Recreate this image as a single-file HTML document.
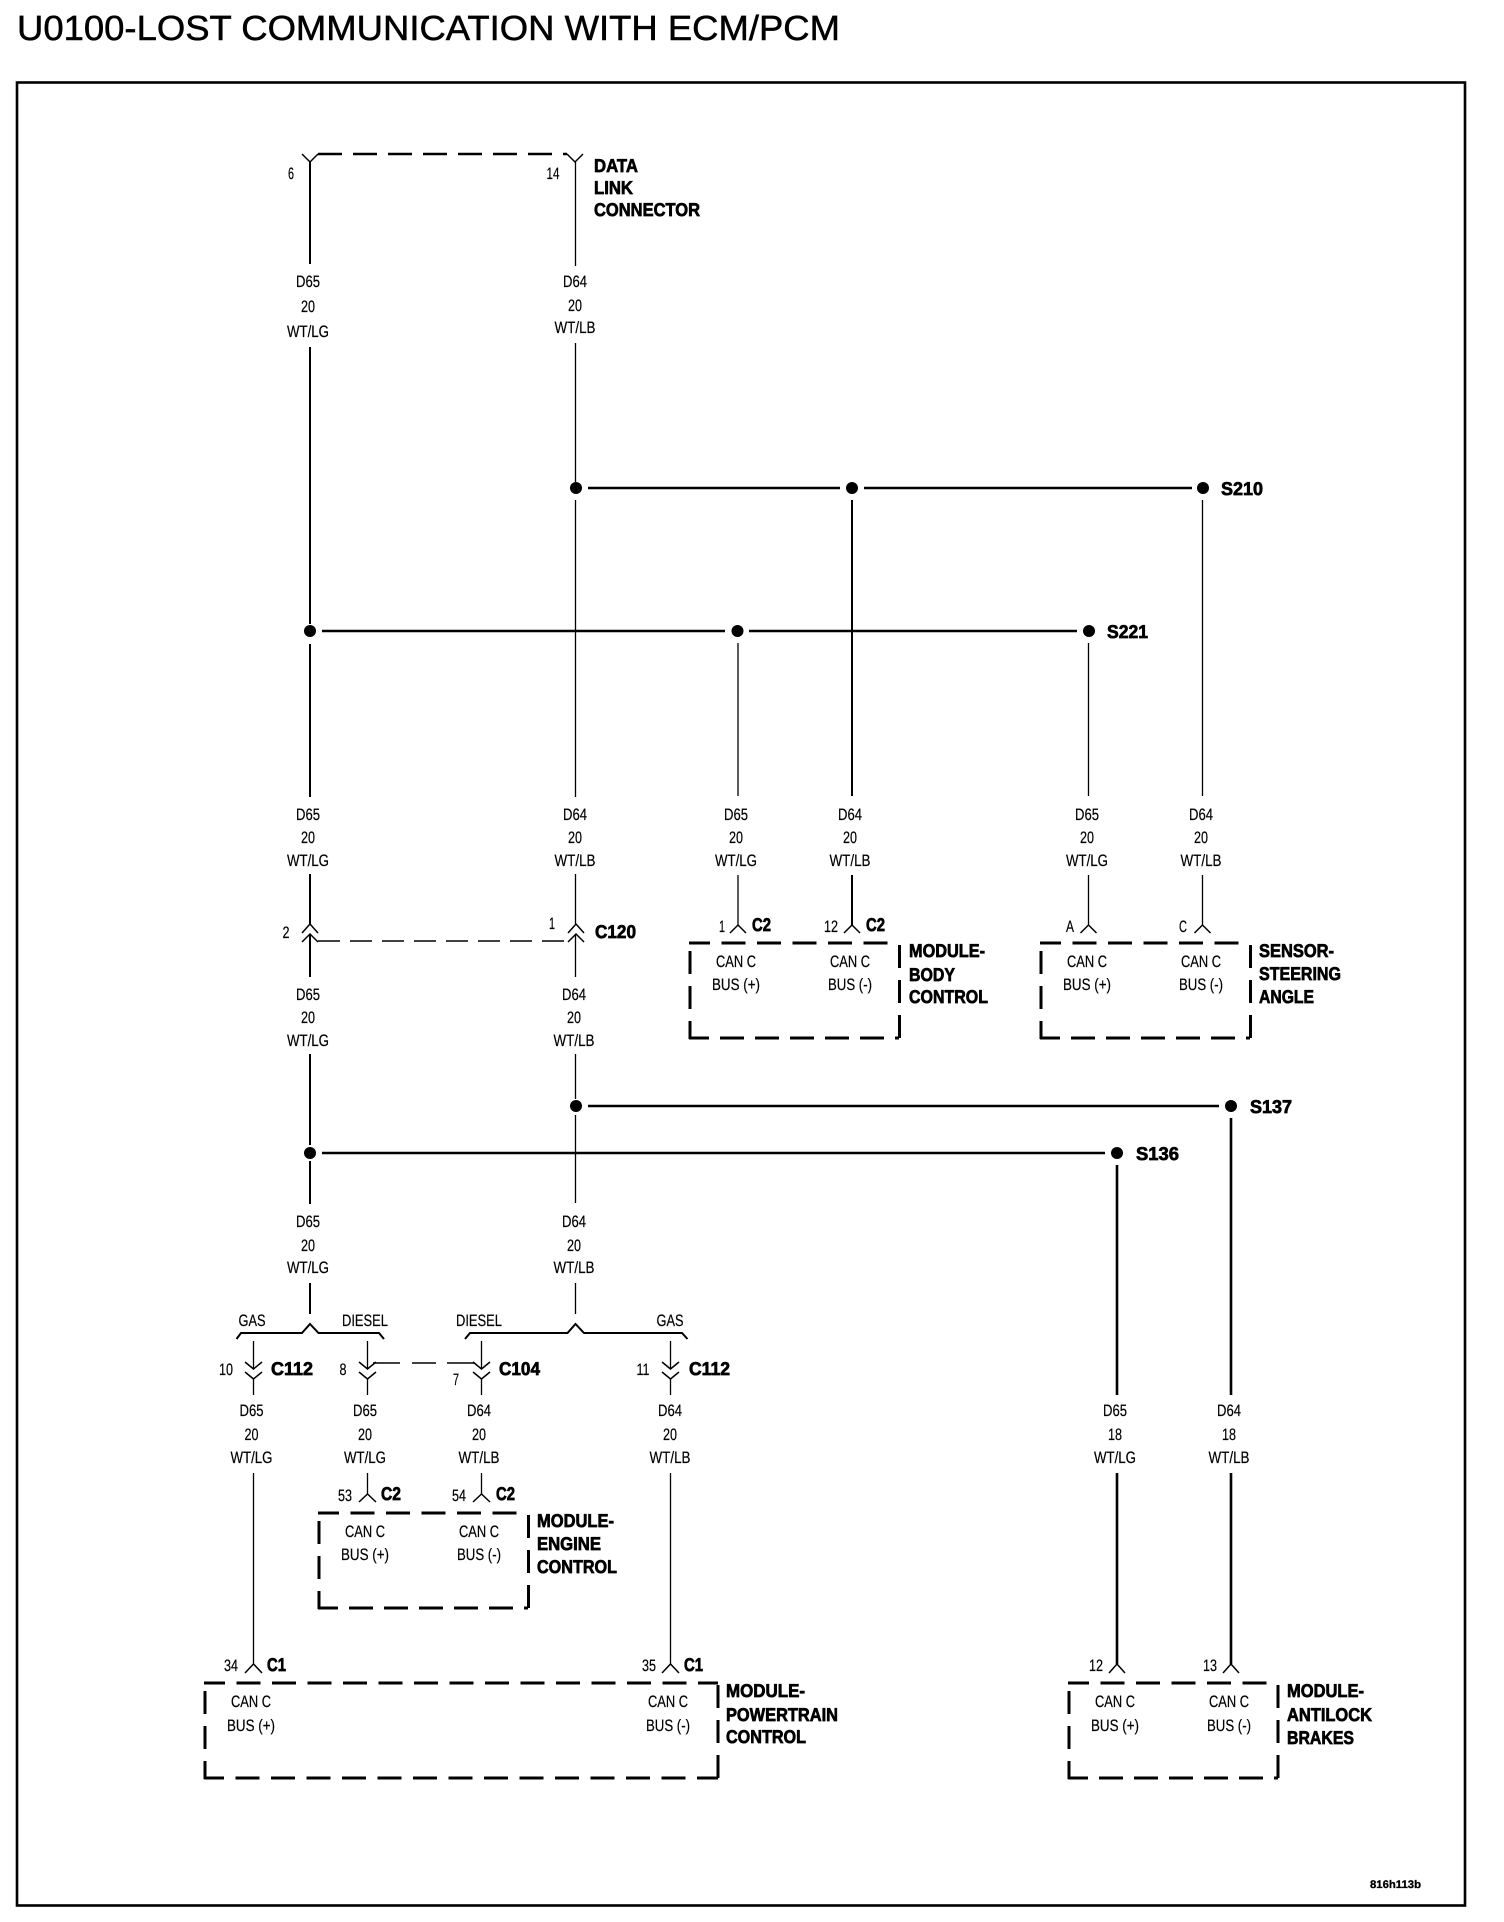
<!DOCTYPE html>
<html><head><meta charset="utf-8"><title>U0100-LOST COMMUNICATION WITH ECM/PCM</title>
<style>
html,body{margin:0;padding:0;background:#fff;width:1504px;height:1922px;overflow:hidden}
svg{display:block}
text{font-family:"Liberation Sans",sans-serif;fill:#000;text-rendering:geometricPrecision}
.s{font-size:16.5px;text-anchor:middle;stroke:#000;stroke-width:.2px}
.b{font-size:18.500px;font-weight:bold;stroke:#000;stroke-width:.7px}
.w{fill:none;stroke:#000}
.t1{stroke-width:1.3}.t2{stroke-width:2}.t3{stroke-width:2.6}
.h{stroke-width:2.6}
.c{fill:none;stroke:#000;stroke-width:1.5}
.m{fill:none;stroke:#000;stroke-width:3}
</style></head><body>
<svg width="1504" height="1922" viewBox="0 0 1504 1922" xmlns="http://www.w3.org/2000/svg">
<rect width="1504" height="1922" fill="#fff"/>
<text x="17" y="40" font-size="35" stroke="#000" stroke-width=".5" textLength="823" lengthAdjust="spacingAndGlyphs">U0100-LOST COMMUNICATION WITH ECM/PCM</text>
<rect x="17" y="82.500" width="1448" height="1823" fill="none" stroke="#000" stroke-width="2.6"/>
<g transform="translate(-1,-1)">

<!-- Data link connector -->
<path class="m" style="stroke-width:2.6" stroke-dasharray="24 11" d="M319 155H568"/>
<path class="c" d="M303 155L311 163L319 155M568 155L576 163L584 155"/>
<path class="w t2" d="M311 163V265M311 348V625M311 645V798M311 875V925M311 935V978M311 1055V1146M311 1162V1205M311 1284V1315"/>
<path class="w t1" d="M576.500 163V267M576.500 344V483M576.500 501V798M576.500 875V925M576.500 935V978M576.500 1055V1100M576.500 1116V1204M576.500 1284V1315"/>
<text class="s" x="292" y="180" textLength="6" lengthAdjust="spacingAndGlyphs">6</text>
<text class="s" x="554" y="180" textLength="13" lengthAdjust="spacingAndGlyphs">14</text>
<text class="b" x="595" y="173" textLength="44" lengthAdjust="spacingAndGlyphs">DATA</text>
<text class="b" x="595" y="195" textLength="39" lengthAdjust="spacingAndGlyphs">LINK</text>
<text class="b" x="595" y="217" textLength="106" lengthAdjust="spacingAndGlyphs">CONNECTOR</text>

<text class="s" x="309" y="288" textLength="24" lengthAdjust="spacingAndGlyphs">D65</text>
<text class="s" x="309" y="313" textLength="14" lengthAdjust="spacingAndGlyphs">20</text>
<text class="s" x="309" y="338" textLength="42" lengthAdjust="spacingAndGlyphs">WT/LG</text>
<text class="s" x="576" y="288" textLength="24" lengthAdjust="spacingAndGlyphs">D64</text>
<text class="s" x="576" y="312" textLength="14" lengthAdjust="spacingAndGlyphs">20</text>
<text class="s" x="576" y="334" textLength="41" lengthAdjust="spacingAndGlyphs">WT/LB</text>

<!-- Splices -->
<path class="w h" d="M589 489H841M865 489H1193M323 632H726M750 632H1078M589 1107H1220M323 1154H1106"/>
<g fill="#000">
<circle cx="577" cy="489" r="6"/><circle cx="853" cy="489" r="6"/><circle cx="1204" cy="489" r="6"/>
<circle cx="311" cy="632" r="6"/><circle cx="738.500" cy="632" r="6"/><circle cx="1090" cy="632" r="6"/>
<circle cx="577" cy="1107" r="6"/><circle cx="1232" cy="1107" r="6"/>
<circle cx="311" cy="1154" r="6"/><circle cx="1118" cy="1154" r="6"/>
</g>
<text class="b" x="1222" y="496" textLength="42" lengthAdjust="spacingAndGlyphs">S210</text>
<text class="b" x="1108" y="639" textLength="41" lengthAdjust="spacingAndGlyphs">S221</text>
<text class="b" x="1251" y="1114" textLength="42" lengthAdjust="spacingAndGlyphs">S137</text>
<text class="b" x="1137" y="1161" textLength="43" lengthAdjust="spacingAndGlyphs">S136</text>

<!-- Branch wires -->
<path class="w t1" d="M739 644V797M739 876V926"/>
<path class="w t2" d="M853 501V797M853 876V926"/>
<path class="w t1" d="M1089.500 644V797M1089.500 876V926"/>
<path class="w t1" d="M1203.500 501V797M1203.500 876V926"/>
<path class="w t3" d="M1118 1166V1396M1118 1474V1665"/>
<path class="w t3" d="M1232 1119V1396M1232 1474V1665"/>

<!-- Row 2 labels -->
<g>
<text class="s" x="309" y="821" textLength="24" lengthAdjust="spacingAndGlyphs">D65</text><text class="s" x="309" y="844" textLength="14" lengthAdjust="spacingAndGlyphs">20</text><text class="s" x="309" y="867" textLength="42" lengthAdjust="spacingAndGlyphs">WT/LG</text>
<text class="s" x="576" y="821" textLength="24" lengthAdjust="spacingAndGlyphs">D64</text><text class="s" x="576" y="844" textLength="14" lengthAdjust="spacingAndGlyphs">20</text><text class="s" x="576" y="867" textLength="41" lengthAdjust="spacingAndGlyphs">WT/LB</text>
<text class="s" x="737" y="821" textLength="24" lengthAdjust="spacingAndGlyphs">D65</text><text class="s" x="737" y="844" textLength="14" lengthAdjust="spacingAndGlyphs">20</text><text class="s" x="737" y="867" textLength="42" lengthAdjust="spacingAndGlyphs">WT/LG</text>
<text class="s" x="851" y="821" textLength="24" lengthAdjust="spacingAndGlyphs">D64</text><text class="s" x="851" y="844" textLength="14" lengthAdjust="spacingAndGlyphs">20</text><text class="s" x="851" y="867" textLength="41" lengthAdjust="spacingAndGlyphs">WT/LB</text>
<text class="s" x="1088" y="821" textLength="24" lengthAdjust="spacingAndGlyphs">D65</text><text class="s" x="1088" y="844" textLength="14" lengthAdjust="spacingAndGlyphs">20</text><text class="s" x="1088" y="867" textLength="42" lengthAdjust="spacingAndGlyphs">WT/LG</text>
<text class="s" x="1202" y="821" textLength="24" lengthAdjust="spacingAndGlyphs">D64</text><text class="s" x="1202" y="844" textLength="14" lengthAdjust="spacingAndGlyphs">20</text><text class="s" x="1202" y="867" textLength="41" lengthAdjust="spacingAndGlyphs">WT/LB</text>
</g>

<!-- C120 -->
<path class="c" d="M303 934L311 925L319 934M303 943L311 935L319 943M569 934L577 925L585 934M569 943L577 935L585 943"/>
<path class="w" stroke-width="1.4" stroke-dasharray="22 10" d="M319 942H570"/>
<text class="s" x="287" y="939" textLength="7" lengthAdjust="spacingAndGlyphs">2</text>
<text class="s" x="553" y="930" textLength="6" lengthAdjust="spacingAndGlyphs">1</text>
<text class="b" x="596" y="939" textLength="41" lengthAdjust="spacingAndGlyphs">C120</text>
<text class="s" x="309" y="1001" textLength="24" lengthAdjust="spacingAndGlyphs">D65</text><text class="s" x="309" y="1024" textLength="14" lengthAdjust="spacingAndGlyphs">20</text><text class="s" x="309" y="1047" textLength="42" lengthAdjust="spacingAndGlyphs">WT/LG</text>
<text class="s" x="575" y="1001" textLength="24" lengthAdjust="spacingAndGlyphs">D64</text><text class="s" x="575" y="1024" textLength="14" lengthAdjust="spacingAndGlyphs">20</text><text class="s" x="575" y="1047" textLength="41" lengthAdjust="spacingAndGlyphs">WT/LB</text>

<!-- Body control -->
<path class="c" d="M731 934L739 926L747 934M845 934L853 926L861 934"/>
<text class="s" x="723" y="933" textLength="6" lengthAdjust="spacingAndGlyphs">1</text>
<text class="b" x="753" y="932" textLength="19" lengthAdjust="spacingAndGlyphs">C2</text>
<text class="s" x="832" y="933" textLength="14" lengthAdjust="spacingAndGlyphs">12</text>
<text class="b" x="867" y="932" textLength="19" lengthAdjust="spacingAndGlyphs">C2</text>
<path class="m" stroke-dasharray="24 11.500" stroke-dashoffset="3" d="M690 944H891"/>
<path class="m" stroke-dasharray="24 11" stroke-dashoffset="4" d="M690 1039H900"/>
<path class="m" stroke-dasharray="23 12" stroke-dashoffset="26" d="M691 943V1040"/>
<path class="m" stroke-dasharray="23 12" d="M900.500 946V1040"/>
<text class="s" x="737" y="968" textLength="40" lengthAdjust="spacingAndGlyphs">CAN C</text><text class="s" x="737" y="991" textLength="48" lengthAdjust="spacingAndGlyphs">BUS (+)</text>
<text class="s" x="851" y="968" textLength="40" lengthAdjust="spacingAndGlyphs">CAN C</text><text class="s" x="851" y="991" textLength="44" lengthAdjust="spacingAndGlyphs">BUS (-)</text>
<text class="b" x="910" y="958" textLength="76" lengthAdjust="spacingAndGlyphs">MODULE-</text>
<text class="b" x="910" y="982" textLength="46" lengthAdjust="spacingAndGlyphs">BODY</text>
<text class="b" x="910" y="1004" textLength="79" lengthAdjust="spacingAndGlyphs">CONTROL</text>

<!-- Sensor -->
<path class="c" d="M1081.500 934L1089.500 926L1097.500 934M1195.500 934L1203.500 926L1211.500 934"/>
<text class="s" x="1071" y="933" textLength="8" lengthAdjust="spacingAndGlyphs">A</text>
<text class="s" x="1184" y="933" textLength="8" lengthAdjust="spacingAndGlyphs">C</text>
<path class="m" stroke-dasharray="24 11.500" stroke-dashoffset="3" d="M1041 944H1242"/>
<path class="m" stroke-dasharray="24 11" stroke-dashoffset="4" d="M1041 1039H1251"/>
<path class="m" stroke-dasharray="23 12" stroke-dashoffset="26" d="M1042 943V1040"/>
<path class="m" stroke-dasharray="23 12" d="M1251.500 946V1040"/>
<text class="s" x="1088" y="968" textLength="40" lengthAdjust="spacingAndGlyphs">CAN C</text><text class="s" x="1088" y="991" textLength="48" lengthAdjust="spacingAndGlyphs">BUS (+)</text>
<text class="s" x="1202" y="968" textLength="40" lengthAdjust="spacingAndGlyphs">CAN C</text><text class="s" x="1202" y="991" textLength="44" lengthAdjust="spacingAndGlyphs">BUS (-)</text>
<text class="b" x="1260" y="958" textLength="75" lengthAdjust="spacingAndGlyphs">SENSOR-</text>
<text class="b" x="1260" y="981" textLength="82" lengthAdjust="spacingAndGlyphs">STEERING</text>
<text class="b" x="1260" y="1004" textLength="55" lengthAdjust="spacingAndGlyphs">ANGLE</text>

<!-- Row 3 labels -->
<text class="s" x="309" y="1228" textLength="24" lengthAdjust="spacingAndGlyphs">D65</text><text class="s" x="309" y="1252" textLength="14" lengthAdjust="spacingAndGlyphs">20</text><text class="s" x="309" y="1274" textLength="42" lengthAdjust="spacingAndGlyphs">WT/LG</text>
<text class="s" x="575" y="1228" textLength="24" lengthAdjust="spacingAndGlyphs">D64</text><text class="s" x="575" y="1252" textLength="14" lengthAdjust="spacingAndGlyphs">20</text><text class="s" x="575" y="1274" textLength="41" lengthAdjust="spacingAndGlyphs">WT/LB</text>

<!-- Braces -->
<path class="w" stroke-width="2" d="M237.500 1340L242 1334H303L311 1325L319.500 1334H380L385 1340"/>
<path class="w" stroke-width="2" d="M466 1340L471 1334H568.500L576.500 1325L585 1334H683L688.500 1340"/>
<text class="s" x="253" y="1327" textLength="27" lengthAdjust="spacingAndGlyphs">GAS</text>
<text class="s" x="366" y="1327" textLength="46" lengthAdjust="spacingAndGlyphs">DIESEL</text>
<text class="s" x="480" y="1327" textLength="46" lengthAdjust="spacingAndGlyphs">DIESEL</text>
<text class="s" x="671" y="1327" textLength="27" lengthAdjust="spacingAndGlyphs">GAS</text>

<!-- In-line connectors -->
<path class="w t1" d="M254.500 1342V1370M254.500 1380V1396M368.500 1342V1370M368.500 1380V1396M482.500 1342V1370M482.500 1380V1396M671.500 1342V1370M671.500 1380V1396"/>
<path class="c" d="M246 1363L254.500 1370L263 1363M246 1373L254.500 1380L263 1373M360 1363L368.500 1370L377 1363M360 1373L368.500 1380L377 1373M474 1363L482.500 1370L491 1363M474 1373L482.500 1380L491 1373M663 1363L671.500 1370L680 1363M663 1373L671.500 1380L680 1373"/>
<path class="w" stroke-width="1.6" d="M374 1364H401M413 1364H437M448 1364H476"/>
<text class="s" x="227" y="1376" textLength="14" lengthAdjust="spacingAndGlyphs">10</text>
<text class="s" x="344" y="1376" textLength="7" lengthAdjust="spacingAndGlyphs">8</text>
<text class="s" x="457" y="1386" textLength="6" lengthAdjust="spacingAndGlyphs">7</text>
<text class="s" x="644" y="1376" textLength="13" lengthAdjust="spacingAndGlyphs">11</text>
<text class="b" x="272" y="1376" textLength="42" lengthAdjust="spacingAndGlyphs">C112</text>
<text class="b" x="500" y="1376" textLength="41" lengthAdjust="spacingAndGlyphs">C104</text>
<text class="b" x="690" y="1376" textLength="41" lengthAdjust="spacingAndGlyphs">C112</text>

<!-- Row 4 labels -->
<text class="s" x="252.500" y="1417" textLength="24" lengthAdjust="spacingAndGlyphs">D65</text><text class="s" x="252.500" y="1441" textLength="14" lengthAdjust="spacingAndGlyphs">20</text><text class="s" x="252.500" y="1464" textLength="42" lengthAdjust="spacingAndGlyphs">WT/LG</text>
<text class="s" x="366" y="1417" textLength="24" lengthAdjust="spacingAndGlyphs">D65</text><text class="s" x="366" y="1441" textLength="14" lengthAdjust="spacingAndGlyphs">20</text><text class="s" x="366" y="1464" textLength="42" lengthAdjust="spacingAndGlyphs">WT/LG</text>
<text class="s" x="480" y="1417" textLength="24" lengthAdjust="spacingAndGlyphs">D64</text><text class="s" x="480" y="1441" textLength="14" lengthAdjust="spacingAndGlyphs">20</text><text class="s" x="480" y="1464" textLength="41" lengthAdjust="spacingAndGlyphs">WT/LB</text>
<text class="s" x="671" y="1417" textLength="24" lengthAdjust="spacingAndGlyphs">D64</text><text class="s" x="671" y="1441" textLength="14" lengthAdjust="spacingAndGlyphs">20</text><text class="s" x="671" y="1464" textLength="41" lengthAdjust="spacingAndGlyphs">WT/LB</text>
<text class="s" x="1116" y="1417" textLength="24" lengthAdjust="spacingAndGlyphs">D65</text><text class="s" x="1116" y="1441" textLength="14" lengthAdjust="spacingAndGlyphs">18</text><text class="s" x="1116" y="1464" textLength="42" lengthAdjust="spacingAndGlyphs">WT/LG</text>
<text class="s" x="1230" y="1417" textLength="24" lengthAdjust="spacingAndGlyphs">D64</text><text class="s" x="1230" y="1441" textLength="14" lengthAdjust="spacingAndGlyphs">18</text><text class="s" x="1230" y="1464" textLength="41" lengthAdjust="spacingAndGlyphs">WT/LB</text>

<!-- Engine control -->
<path class="w t1" d="M368.500 1474V1495M482.500 1474V1495M254.500 1474V1665M671.500 1474V1665"/>
<path class="c" d="M360 1503L368.500 1495L377 1503M474 1503L482.500 1495L491 1503"/>
<text class="s" x="346" y="1502" textLength="14" lengthAdjust="spacingAndGlyphs">53</text>
<text class="b" x="382" y="1501" textLength="20" lengthAdjust="spacingAndGlyphs">C2</text>
<text class="s" x="460" y="1502" textLength="14" lengthAdjust="spacingAndGlyphs">54</text>
<text class="b" x="497" y="1501" textLength="19" lengthAdjust="spacingAndGlyphs">C2</text>
<path class="m" stroke-dasharray="24 11.500" stroke-dashoffset="3" d="M319 1514H520"/>
<path class="m" stroke-dasharray="24 11" stroke-dashoffset="4" d="M319 1609H529"/>
<path class="m" stroke-dasharray="23 12" stroke-dashoffset="26" d="M320 1513V1610"/>
<path class="m" stroke-dasharray="23 12" d="M529.500 1516V1610"/>
<text class="s" x="366" y="1538" textLength="40" lengthAdjust="spacingAndGlyphs">CAN C</text><text class="s" x="366" y="1561" textLength="48" lengthAdjust="spacingAndGlyphs">BUS (+)</text>
<text class="s" x="480" y="1538" textLength="40" lengthAdjust="spacingAndGlyphs">CAN C</text><text class="s" x="480" y="1561" textLength="44" lengthAdjust="spacingAndGlyphs">BUS (-)</text>
<text class="b" x="538" y="1528" textLength="77" lengthAdjust="spacingAndGlyphs">MODULE-</text>
<text class="b" x="538" y="1551" textLength="64" lengthAdjust="spacingAndGlyphs">ENGINE</text>
<text class="b" x="538" y="1574" textLength="80" lengthAdjust="spacingAndGlyphs">CONTROL</text>

<!-- Powertrain -->
<path class="c" d="M246 1674L254.500 1665L263 1674M663 1674L671.500 1665L680 1674"/>
<text class="s" x="232" y="1672" textLength="14" lengthAdjust="spacingAndGlyphs">34</text>
<text class="b" x="268" y="1672" textLength="19" lengthAdjust="spacingAndGlyphs">C1</text>
<text class="s" x="650" y="1672" textLength="14" lengthAdjust="spacingAndGlyphs">35</text>
<text class="b" x="685" y="1672" textLength="19" lengthAdjust="spacingAndGlyphs">C1</text>
<path class="m" stroke-dasharray="24 11.500" stroke-dashoffset="3" d="M205 1684H719"/>
<path class="m" stroke-dasharray="24 11.500" stroke-dashoffset="4" d="M205 1779H719"/>
<path class="m" stroke-dasharray="23 12" stroke-dashoffset="26" d="M206 1683V1780"/>
<path class="m" stroke-dasharray="23 12" d="M719 1686V1780"/>
<text class="s" x="252" y="1708" textLength="40" lengthAdjust="spacingAndGlyphs">CAN C</text><text class="s" x="252" y="1732" textLength="48" lengthAdjust="spacingAndGlyphs">BUS (+)</text>
<text class="s" x="669" y="1708" textLength="40" lengthAdjust="spacingAndGlyphs">CAN C</text><text class="s" x="669" y="1732" textLength="44" lengthAdjust="spacingAndGlyphs">BUS (-)</text>
<text class="b" x="727" y="1698" textLength="79" lengthAdjust="spacingAndGlyphs">MODULE-</text>
<text class="b" x="727" y="1722" textLength="112" lengthAdjust="spacingAndGlyphs">POWERTRAIN</text>
<text class="b" x="727" y="1744" textLength="80" lengthAdjust="spacingAndGlyphs">CONTROL</text>

<!-- Antilock -->
<path class="c" d="M1110 1674L1118 1665L1126 1674M1224 1674L1232 1665L1240 1674"/>
<text class="s" x="1097" y="1672" textLength="14" lengthAdjust="spacingAndGlyphs">12</text>
<text class="s" x="1211" y="1672" textLength="14" lengthAdjust="spacingAndGlyphs">13</text>
<path class="m" stroke-dasharray="24 11.500" stroke-dashoffset="3" d="M1069 1684H1269"/>
<path class="m" stroke-dasharray="24 11" stroke-dashoffset="4" d="M1069 1779H1279"/>
<path class="m" stroke-dasharray="23 12" stroke-dashoffset="26" d="M1070 1683V1780"/>
<path class="m" stroke-dasharray="23 12" d="M1279 1686V1780"/>
<text class="s" x="1116" y="1708" textLength="40" lengthAdjust="spacingAndGlyphs">CAN C</text><text class="s" x="1116" y="1732" textLength="48" lengthAdjust="spacingAndGlyphs">BUS (+)</text>
<text class="s" x="1230" y="1708" textLength="40" lengthAdjust="spacingAndGlyphs">CAN C</text><text class="s" x="1230" y="1732" textLength="44" lengthAdjust="spacingAndGlyphs">BUS (-)</text>
<text class="b" x="1288" y="1698" textLength="77" lengthAdjust="spacingAndGlyphs">MODULE-</text>
<text class="b" x="1288" y="1722" textLength="85" lengthAdjust="spacingAndGlyphs">ANTILOCK</text>
<text class="b" x="1288" y="1745" textLength="67" lengthAdjust="spacingAndGlyphs">BRAKES</text>

<text x="1371" y="1889" font-size="11" font-weight="bold" stroke="#000" stroke-width=".3" textLength="51" lengthAdjust="spacingAndGlyphs">816h113b</text>
</g>
</svg>
</body></html>
